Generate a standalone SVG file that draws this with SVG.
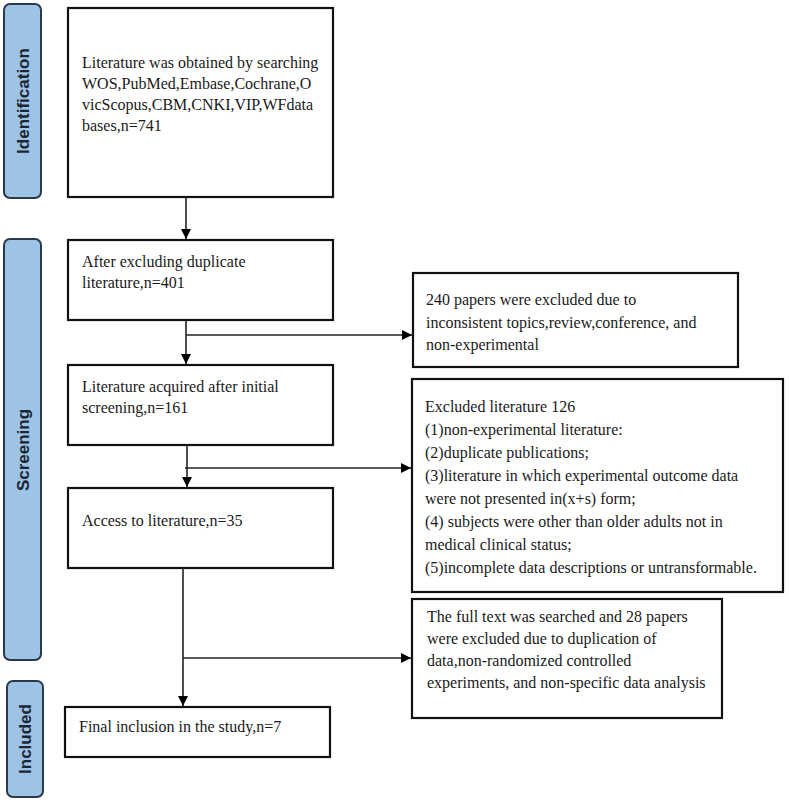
<svg xmlns="http://www.w3.org/2000/svg" width="789" height="802" viewBox="0 0 789 802">
<defs>
<marker id="ah" viewBox="0 0 10 10" refX="10" refY="5" markerWidth="10" markerHeight="10" markerUnits="userSpaceOnUse" orient="auto">
<path d="M0,0 L10,5 L0,10 Z" fill="#000"/>
</marker>
<style>
.box{fill:#fff;stroke:#111;stroke-width:2.2}
.lane{fill:#9dc3e6;stroke:#2b3a4a;stroke-width:2}
.lt{font-family:"Liberation Sans",Arial,sans-serif;font-weight:bold;font-size:17px;fill:#1c2733;text-anchor:middle}
.t{font-family:"Liberation Serif","Times New Roman",serif;font-size:16px;fill:#1a1a1a}
.c{fill:none;stroke:#222;stroke-width:1.6}
</style>
</defs>
<rect width="789" height="802" fill="#fff"/>
<g id="lane-identification">
<rect class="lane" x="4" y="4" width="37" height="194" rx="6"/>
<text class="lt" transform="translate(29,101) rotate(-90)">Identification</text>
</g>
<g id="lane-screening">
<rect class="lane" x="4" y="239" width="37" height="421" rx="6"/>
<text class="lt" transform="translate(29,450) rotate(-90)">Screening</text>
</g>
<g id="lane-included">
<rect class="lane" x="7" y="681" width="36" height="116" rx="6"/>
<text class="lt" transform="translate(31,739) rotate(-90)">Included</text>
</g>
<g id="node-search">
<rect class="box" x="68" y="8" width="265" height="189"/>
<text class="t" x="82" y="68">Literature was obtained by searching</text>
<text class="t" x="82" y="89">WOS,PubMed,Embase,Cochrane,O</text>
<text class="t" x="82" y="110">vicScopus,CBM,CNKI,VIP,WFdata</text>
<text class="t" x="82" y="131">bases,n=741</text>
</g>
<g id="node-dedup">
<rect class="box" x="68" y="240" width="265" height="80"/>
<text class="t" x="82" y="267">After excluding duplicate</text>
<text class="t" x="82" y="288">literature,n=401</text>
</g>
<g id="node-initial">
<rect class="box" x="68" y="365" width="265" height="80"/>
<text class="t" x="82" y="392">Literature acquired after initial</text>
<text class="t" x="82" y="413">screening,n=161</text>
</g>
<g id="node-access">
<rect class="box" x="68" y="488" width="265" height="80"/>
<text class="t" x="82" y="526">Access to literature,n=35</text>
</g>
<g id="node-final">
<rect class="box" x="65" y="707" width="265" height="50"/>
<text class="t" x="79" y="732">Final inclusion in the study,n=7</text>
</g>
<g id="node-excl240">
<rect class="box" x="413" y="273" width="325" height="94"/>
<text class="t" x="426" y="305">240 papers were excluded due to</text>
<text class="t" x="426" y="328">inconsistent topics,review,conference, and</text>
<text class="t" x="426" y="350">non-experimental</text>
</g>
<g id="node-excl126">
<rect class="box" x="412" y="379" width="371" height="213"/>
<text class="t" x="425" y="412">Excluded literature 126</text>
<text class="t" x="425" y="435">(1)non-experimental literature:</text>
<text class="t" x="425" y="458">(2)duplicate publications;</text>
<text class="t" x="425" y="481">(3)literature in which experimental outcome data</text>
<text class="t" x="425" y="504">were not presented in(x+s) form;</text>
<text class="t" x="425" y="527">(4) subjects were other than older adults not in</text>
<text class="t" x="425" y="550">medical clinical status;</text>
<text class="t" x="425" y="573">(5)incomplete data descriptions or untransformable.</text>
</g>
<g id="node-excl28">
<rect class="box" x="412" y="599" width="310" height="119"/>
<text class="t" x="427" y="622">The full text was searched and 28 papers</text>
<text class="t" x="427" y="644">were excluded due to duplication of</text>
<text class="t" x="427" y="666">data,non-randomized controlled</text>
<text class="t" x="427" y="688">experiments, and non-specific data analysis</text>
</g>
<g id="connectors">
<path class="c" d="M186,197 V239" marker-end="url(#ah)"/>
<path class="c" d="M186,320 V364" marker-end="url(#ah)"/>
<path class="c" d="M186,335 H412" marker-end="url(#ah)"/>
<path class="c" d="M187,445 V487" marker-end="url(#ah)"/>
<path class="c" d="M185,468 H411" marker-end="url(#ah)"/>
<path class="c" d="M183,568 V706" marker-end="url(#ah)"/>
<path class="c" d="M183,658 H411" marker-end="url(#ah)"/>
</g>
</svg>
